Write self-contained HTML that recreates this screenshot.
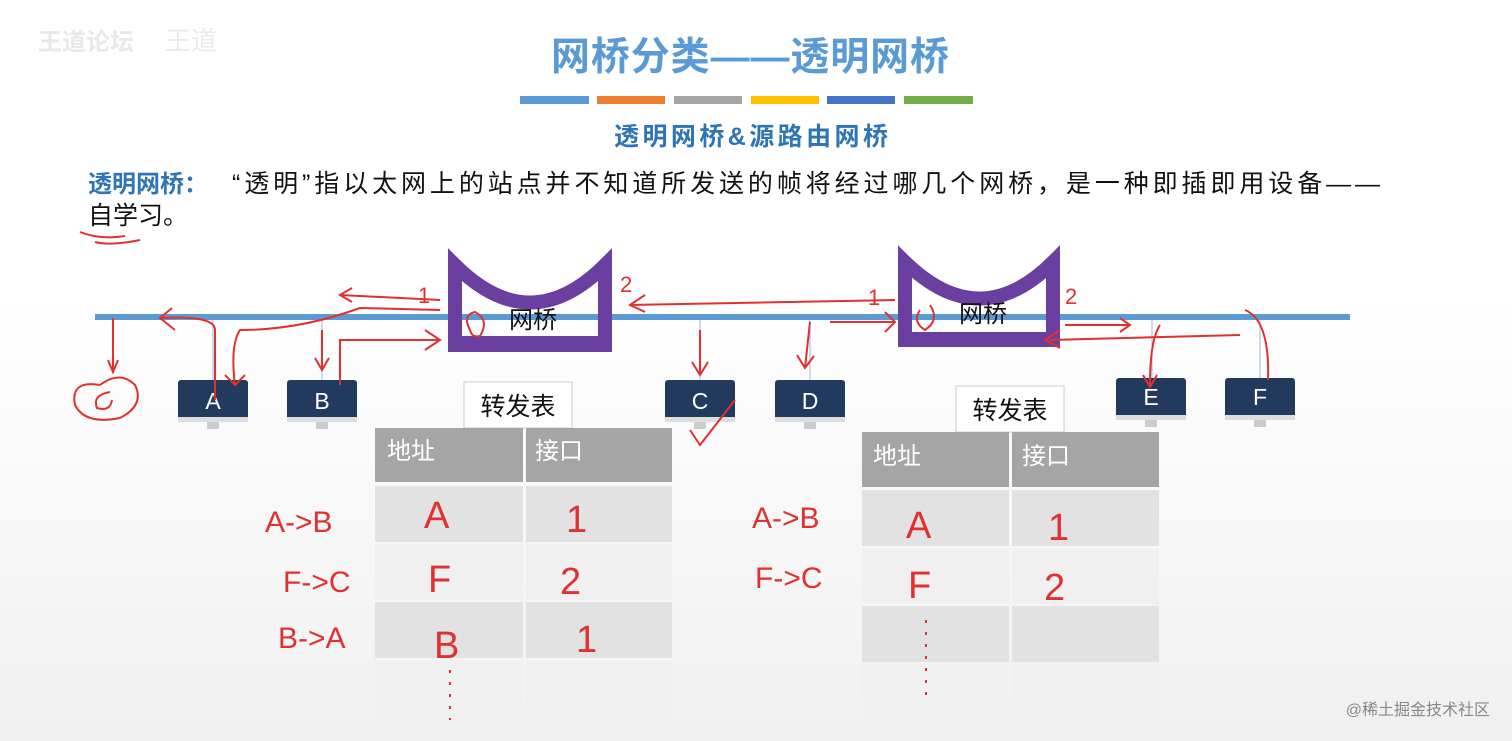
<!DOCTYPE html>
<html><head><meta charset="utf-8"><style>
html,body{margin:0;padding:0;width:1512px;height:741px;overflow:hidden;background:linear-gradient(#fff 0%,#fff 40%,#f0f0f0 100%);font-family:"Liberation Sans","Noto Sans CJK SC",sans-serif;}
svg{position:absolute;left:0;top:0}
</style></head><body>
<svg width="1512" height="741" xmlns="http://www.w3.org/2000/svg" font-family="Liberation Sans, Noto Sans CJK SC, sans-serif">
<text x="38" y="50" font-size="24" fill="#e8e8e8" font-weight="bold">王道论坛</text>
<text x="165" y="50" font-size="26" fill="#eaeaea">王道</text>
<text x="750" y="70" font-size="39" fill="#5b9bd5" text-anchor="middle" textLength="398" font-weight="bold">网桥分类——透明网桥</text>
<g>
<rect x="520" y="96" width="69" height="8" fill="#5b9bd5"/>
<rect x="597" y="96" width="68" height="8" fill="#ed7d31"/>
<rect x="674" y="96" width="68" height="8" fill="#a5a5a5"/>
<rect x="751" y="96" width="68" height="8" fill="#ffc000"/>
<rect x="827" y="96" width="68" height="8" fill="#4472c4"/>
<rect x="904" y="96" width="69" height="8" fill="#70ad47"/>
</g>
<text x="614" y="145" font-size="25" fill="#2e75b6" textLength="274" font-weight="bold">透明网桥&amp;源路由网桥</text>
<text x="88" y="192" font-size="24" fill="#2e75b6" font-weight="bold">透明网桥：</text>
<text x="232" y="192" font-size="25" fill="#111" textLength="1148">“透明”指以太网上的站点并不知道所发送的帧将经过哪几个网桥，是一种即插即用设备——</text>
<text x="88" y="224" font-size="25" fill="#111">自学习。</text>
<path d="M80 232 Q100 240 125 236 M95 242 Q110 246 140 240" stroke="#e03030" stroke-width="2" fill="none"/>

<rect x="95" y="314" width="1255" height="6" fill="#5b9bd5"/>
<g stroke="#9bb8d8" stroke-width="1">
<line x1="213" y1="320" x2="213" y2="380"/><line x1="322" y1="320" x2="322" y2="380"/>
<line x1="700" y1="320" x2="700" y2="380"/><line x1="810" y1="320" x2="810" y2="380"/>
<line x1="1152" y1="320" x2="1152" y2="378"/><line x1="1260" y1="320" x2="1260" y2="378"/>
</g>
<path d="M455 265 L455 345 L605 345 L605 265 Q530 340 455 265 Z" fill="none" stroke="#6a3fa0" stroke-width="14"/>
<rect x="449" y="336" width="162" height="14" fill="#6a3fa0"/>
<path d="M905 262 L905 340 L1053 340 L1053 262 Q980 335 905 262 Z" fill="none" stroke="#6a3fa0" stroke-width="14"/>
<rect x="899" y="332" width="161" height="14" fill="#6a3fa0"/>
<text x="533" y="328" font-size="24" fill="#111" text-anchor="middle">网桥</text>
<text x="983" y="322" font-size="24" fill="#111" text-anchor="middle">网桥</text>
<g font-size="23" fill="#fff" text-anchor="middle">
<g transform="translate(178,380)"><rect width="70" height="40" rx="3" fill="#223a5e"/><rect y="37" width="70" height="5" fill="#ddd"/><rect x="29" y="42" width="12" height="7" fill="#ccc"/><text x="35" y="29">A</text></g>
<g transform="translate(287,380)"><rect width="70" height="40" rx="3" fill="#223a5e"/><rect y="37" width="70" height="5" fill="#ddd"/><rect x="29" y="42" width="12" height="7" fill="#ccc"/><text x="35" y="29">B</text></g>
<g transform="translate(665,380)"><rect width="70" height="40" rx="3" fill="#223a5e"/><rect y="37" width="70" height="5" fill="#ddd"/><rect x="29" y="42" width="12" height="7" fill="#ccc"/><text x="35" y="29">C</text></g>
<g transform="translate(775,380)"><rect width="70" height="40" rx="3" fill="#223a5e"/><rect y="37" width="70" height="5" fill="#ddd"/><rect x="29" y="42" width="12" height="7" fill="#ccc"/><text x="35" y="29">D</text></g>
<g transform="translate(1116,378)"><rect width="70" height="40" rx="3" fill="#223a5e"/><rect y="37" width="70" height="5" fill="#ddd"/><rect x="29" y="42" width="12" height="7" fill="#ccc"/><text x="35" y="27">E</text></g>
<g transform="translate(1225,378)"><rect width="70" height="40" rx="3" fill="#223a5e"/><rect y="37" width="70" height="5" fill="#ddd"/><rect x="29" y="42" width="12" height="7" fill="#ccc"/><text x="35" y="27">F</text></g>
</g>
<rect x="464" y="382" width="108" height="46" fill="#fff" stroke="#ccc"/>
<text x="518" y="415" font-size="25" fill="#111" text-anchor="middle">转发表</text>
<rect x="956" y="386" width="108" height="46" fill="#fff" stroke="#ccc"/>
<text x="1010" y="419" font-size="25" fill="#111" text-anchor="middle">转发表</text>
<g>
<rect x="375" y="428" width="148" height="54" fill="#a5a5a5"/><rect x="526" y="428" width="146" height="54" fill="#a5a5a5"/>
<rect x="375" y="486" width="148" height="56" fill="#e2e2e2"/><rect x="526" y="486" width="146" height="56" fill="#e2e2e2"/>
<rect x="375" y="544" width="148" height="56" fill="#f0f0f0"/><rect x="526" y="544" width="146" height="56" fill="#f0f0f0"/>
<rect x="375" y="602" width="148" height="56" fill="#e2e2e2"/><rect x="526" y="602" width="146" height="56" fill="#e2e2e2"/>
<rect x="375" y="660" width="148" height="56" fill="#f0f0f0"/><rect x="526" y="660" width="146" height="56" fill="#f0f0f0"/>
<text x="387" y="459" font-size="24" fill="#fff">地址</text><text x="535" y="459" font-size="24" fill="#fff">接口</text>
<rect x="862" y="432" width="147" height="55" fill="#a5a5a5"/><rect x="1012" y="432" width="147" height="55" fill="#a5a5a5"/>
<rect x="862" y="490" width="147" height="56" fill="#e2e2e2"/><rect x="1012" y="490" width="147" height="56" fill="#e2e2e2"/>
<rect x="862" y="548" width="147" height="56" fill="#f0f0f0"/><rect x="1012" y="548" width="147" height="56" fill="#f0f0f0"/>
<rect x="862" y="606" width="147" height="56" fill="#e2e2e2"/><rect x="1012" y="606" width="147" height="56" fill="#e2e2e2"/>
<rect x="862" y="664" width="147" height="56" fill="#f0f0f0"/><rect x="1012" y="664" width="147" height="56" fill="#f0f0f0"/>
<text x="873" y="464" font-size="24" fill="#fff">地址</text><text x="1022" y="464" font-size="24" fill="#fff">接口</text>
</g>
<g fill="#e03030" font-family="Liberation Sans, sans-serif" font-size="38">
<text x="424" y="528">A</text><text x="566" y="532">1</text>
<text x="428" y="592">F</text><text x="560" y="594">2</text>
<text x="434" y="658">B</text><text x="576" y="652">1</text>
<text x="906" y="538">A</text><text x="1048" y="540">1</text>
<text x="908" y="598">F</text><text x="1044" y="600">2</text>
<g font-size="30"><text x="265" y="532">A-&gt;B</text><text x="283" y="592">F-&gt;C</text><text x="278" y="648">B-&gt;A</text>
<text x="752" y="528">A-&gt;B</text><text x="755" y="588">F-&gt;C</text></g>
<g font-size="22"><text x="418" y="303">1</text><text x="620" y="292">2</text><text x="868" y="305">1</text><text x="1065" y="304">2</text></g>
</g>
<g stroke="#e03030" stroke-width="2" fill="none">
<path d="M450 670 L450 720 M926 620 L926 700" stroke-dasharray="3 9"/>
<path d="M113 318 L113 372 M108 360 L113 372 L118 360"/>
<path d="M100 385 Q70 380 75 405 Q85 425 120 418 Q145 405 135 385 Q120 370 100 385 M110 392 Q92 395 97 408 Q110 412 112 400"/>
<path d="M215 400 L215 330 Q215 315 160 318 M172 308 L160 318 L175 330"/>
<path d="M440 310 L360 308 Q300 330 240 330 Q230 345 235 385 M225 375 L235 385 L245 375"/>
<path d="M440 300 L340 295 M352 288 L340 295 L352 302"/>
<path d="M340 385 L340 340 L440 340 M425 330 L440 340 L425 350"/>
<path d="M322 330 L322 370 M315 358 L322 370 L329 358"/>
<path d="M470 330 Q462 315 475 312 Q490 320 480 336 Q472 338 470 330"/>
<path d="M895 300 L630 305 M645 295 L630 305 L645 312"/>
<path d="M700 330 L700 375 M692 362 L700 375 L708 362 M690 430 L700 445 L735 400"/>
<path d="M810 322 L805 368 M797 355 L805 368 L814 356"/>
<path d="M895 322 L830 322 M885 312 L895 322 L885 332"/>
<path d="M920 310 Q912 322 925 330 Q940 320 930 305"/>
<path d="M1245 310 Q1270 320 1268 380 M1240 335 L1050 340 M1060 330 L1045 340 L1060 348"/>
<path d="M1160 325 Q1150 340 1150 385 M1143 375 L1150 387 L1157 375 M1065 325 L1130 325 M1120 318 L1130 325 L1120 332"/>
</g>
<text x="1490" y="715" font-size="16" fill="#888" text-anchor="end">@稀土掘金技术社区</text>
</svg>
</body></html>
